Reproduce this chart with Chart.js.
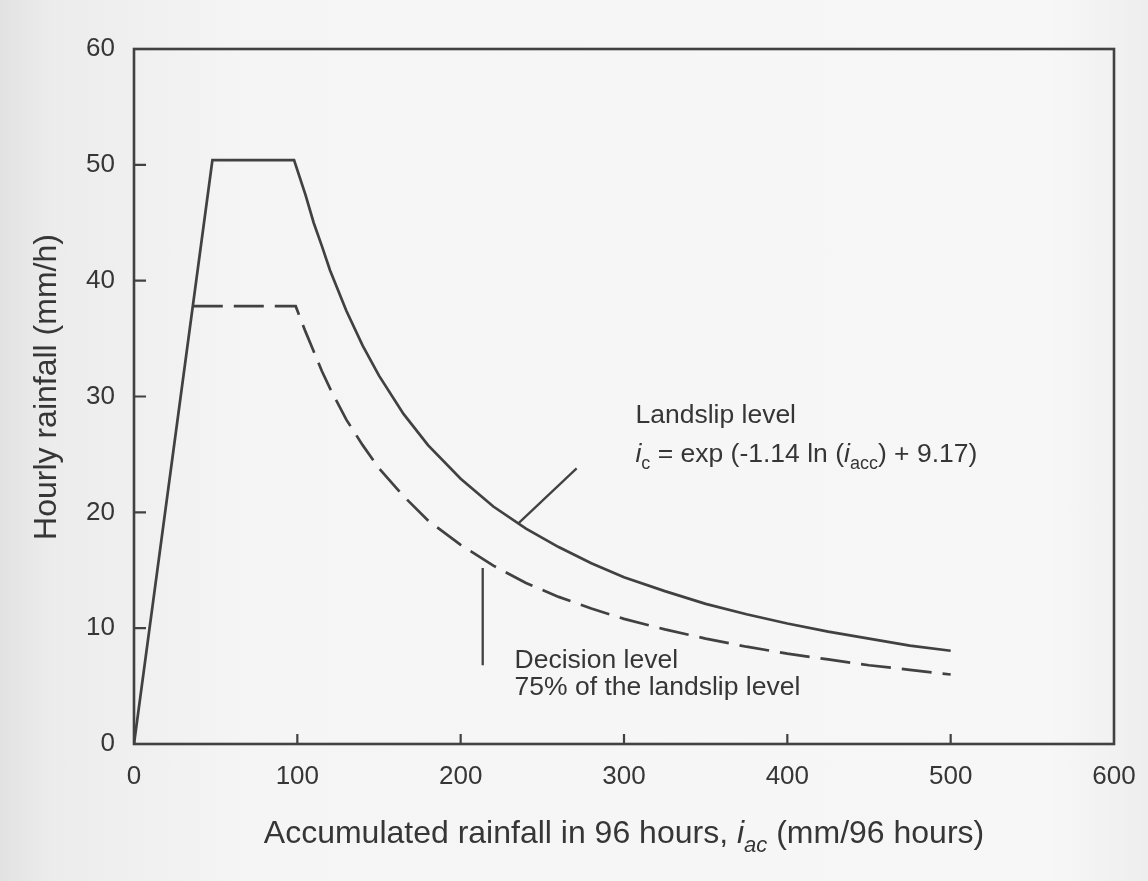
<!DOCTYPE html>
<html>
<head>
<meta charset="utf-8">
<script src="https://cdn.jsdelivr.net/npm/chart.js@4.4.1/dist/chart.umd.min.js"></script>
<style>
  html, body { margin: 0; padding: 0; }
  body {
    width: 1148px; height: 881px; overflow: hidden;
    background: linear-gradient(to right, #e2e2e2 0px, #ececec 50px, #f5f5f5 250px, #f7f7f7 1050px, #eeeeee 1148px);
  }
  canvas { display: block; }
</style>
</head>
<body>
<canvas id="c" width="1148" height="881" style="width:1148px;height:881px"></canvas>
<script>
// ---- data ----
const xTicks = [0, 100, 200, 300, 400, 500, 600];
const yTicks = [0, 10, 20, 30, 40, 50, 60];

const landslipX = [0, 48, 98, 105, 110, 115, 120, 130, 140, 150, 165, 180, 200, 220, 240, 260, 280, 300, 325, 350, 375, 400, 425, 450, 475, 500];
const landslipY = [0, 50.4, 50.4, 47.4, 45.0, 43.0, 40.9, 37.4, 34.4, 31.8, 28.5, 25.8, 22.9, 20.5, 18.6, 17.0, 15.6, 14.4, 13.2, 12.1, 11.2, 10.4, 9.7, 9.1, 8.5, 8.05];

const decisionX = [36, 99, 105, 110, 115, 120, 130, 140, 150, 165, 180, 200, 220, 240, 260, 280, 300, 325, 350, 375, 400, 425, 450, 475, 500];
const decisionY = [37.8, 37.8, 35.6, 33.9, 32.2, 30.7, 28.0, 25.8, 23.8, 21.4, 19.3, 17.2, 15.4, 13.9, 12.7, 11.7, 10.8, 9.9, 9.1, 8.4, 7.8, 7.3, 6.8, 6.4, 6.0];

const landslipPointerX = [235, 271];
const landslipPointerY = [19.0, 23.8];
const decisionPointerX = [213.5, 213.5];
const decisionPointerY = [15.2, 6.8];

const xTitle = [["Accumulated rainfall in 96 hours, ", ""], ["i", "i"], ["ac", "isub"], [" (mm/96 hours)", ""]];
const yTitle = "Hourly rainfall (mm/h)";
const landslipLabel = "Landslip level";
const landslipFormula = [["i", "i"], ["c", "sub"], [" = exp (-1.14 ln (", ""], ["i", "i"], ["acc", "sub"], [") + 9.17)", ""]];
const decisionLabel1 = "Decision level";
const decisionLabel2 = "75% of the landslip level";
// label anchors in data units (left, baseline)
const landslipLabelPos = [307, 27.7];
const landslipFormulaPos = [307, 24.35];
const decisionLabel1Pos = [233, 6.56];
const decisionLabel2Pos = [233, 4.23];

const INK = '#414141';
const TXT = '#363636';
const FONT = '"Liberation Sans", Arial, Helvetica, sans-serif';

function pts(xs, ys) { return xs.map((x, i) => ({ x: x, y: ys[i] })); }

function fontFor(st, size) {
  const sub = st.indexOf('sub') >= 0;
  const it = st.indexOf('i') === 0;
  const s = sub ? Math.round(size * 0.68) : size;
  return (it ? 'italic ' : '') + s + 'px ' + FONT;
}
function richWidth(ctx, parts, size) {
  let w = 0;
  for (const [t, st] of parts) {
    ctx.font = fontFor(st, size);
    w += ctx.measureText(t).width;
  }
  return w;
}
function drawRich(ctx, parts, x, y, size) {
  let cx = x;
  for (const [t, st] of parts) {
    ctx.font = fontFor(st, size);
    const dy = st.indexOf('sub') >= 0 ? size * 0.28 : 0;
    ctx.fillText(t, cx, y + dy);
    cx += ctx.measureText(t).width;
  }
}

const decorPlugin = {
  id: 'decor',
  afterDraw(chart) {
    const ctx = chart.ctx;
    const a = chart.chartArea;
    const xs = chart.scales.x, ys = chart.scales.y;
    ctx.save();
    // frame
    ctx.strokeStyle = INK;
    ctx.lineWidth = 2.6;
    ctx.strokeRect(a.left, a.top, a.right - a.left, a.bottom - a.top);
    // inward ticks
    ctx.lineWidth = 2.2;
    ctx.beginPath();
    for (const v of yTicks) {
      if (v <= ys.min || v >= ys.max) continue;
      const py = ys.getPixelForValue(v);
      ctx.moveTo(a.left, py); ctx.lineTo(a.left + 12, py);
    }
    for (const v of xTicks) {
      if (v <= xs.min || v >= xs.max) continue;
      const px = xs.getPixelForValue(v);
      ctx.moveTo(px, a.bottom); ctx.lineTo(px, a.bottom - 10);
    }
    ctx.stroke();

    ctx.fillStyle = TXT;
    ctx.textBaseline = 'alphabetic';
    ctx.textAlign = 'left';
    // x title centred on plot area
    const tSize = 32;
    const w = richWidth(ctx, xTitle, tSize);
    drawRich(ctx, xTitle, (a.left + a.right) / 2 - w / 2, 843, tSize);
    // y title rotated
    ctx.save();
    ctx.translate(56, 387);
    ctx.rotate(-Math.PI / 2);
    ctx.font = tSize + 'px ' + FONT;
    ctx.textAlign = 'center';
    ctx.fillText(yTitle, 0, 0);
    ctx.restore();

    // annotations
    const aSize = 26.5;
    ctx.textAlign = 'left';
    ctx.font = aSize + 'px ' + FONT;
    ctx.fillText(landslipLabel, xs.getPixelForValue(landslipLabelPos[0]), ys.getPixelForValue(landslipLabelPos[1]));
    drawRich(ctx, landslipFormula, xs.getPixelForValue(landslipFormulaPos[0]), ys.getPixelForValue(landslipFormulaPos[1]), aSize);
    ctx.font = aSize + 'px ' + FONT;
    ctx.fillText(decisionLabel1, xs.getPixelForValue(decisionLabel1Pos[0]), ys.getPixelForValue(decisionLabel1Pos[1]));
    ctx.fillText(decisionLabel2, xs.getPixelForValue(decisionLabel2Pos[0]), ys.getPixelForValue(decisionLabel2Pos[1]));
    ctx.restore();
  }
};

new Chart(document.getElementById('c'), {
  type: 'scatter',
  data: {
    datasets: [
      { label: 'Landslip level', data: pts(landslipX, landslipY), showLine: true, borderColor: INK, borderWidth: 2.7, pointRadius: 0, tension: 0, fill: false },
      { label: 'Decision level', data: pts(decisionX, decisionY), showLine: true, borderColor: INK, borderWidth: 2.7, borderDash: [30, 11], pointRadius: 0, tension: 0, fill: false },
      { label: 'pointer1', data: pts(landslipPointerX, landslipPointerY), showLine: true, borderColor: INK, borderWidth: 2.3, pointRadius: 0 },
      { label: 'pointer2', data: pts(decisionPointerX, decisionPointerY), showLine: true, borderColor: INK, borderWidth: 2.3, pointRadius: 0 }
    ]
  },
  options: {
    responsive: false,
    animation: false,
    events: [],
    layout: { padding: { left: 0, right: 34, top: 49, bottom: 0 } },
    plugins: { legend: { display: false }, tooltip: { enabled: false } },
    scales: {
      x: {
        type: 'linear', min: 0, max: 600,
        afterBuildTicks: s => { s.ticks = xTicks.map(v => ({ value: v })); },
        afterFit: s => { s.height = 137; s.paddingLeft = 0; s.paddingRight = 0; },
        grid: { display: false, drawTicks: false },
        border: { display: false },
        ticks: { color: TXT, font: { size: 26, family: FONT }, padding: 17, maxRotation: 0 }
      },
      y: {
        type: 'linear', min: 0, max: 60,
        afterBuildTicks: s => { s.ticks = yTicks.map(v => ({ value: v })); },
        afterFit: s => { s.width = 134; s.paddingTop = 0; s.paddingBottom = 0; },
        grid: { display: false, drawTicks: false },
        border: { display: false },
        ticks: { color: TXT, font: { size: 26, family: FONT }, padding: 19 }
      }
    }
  },
  plugins: [decorPlugin]
});
</script>
</body>
</html>
